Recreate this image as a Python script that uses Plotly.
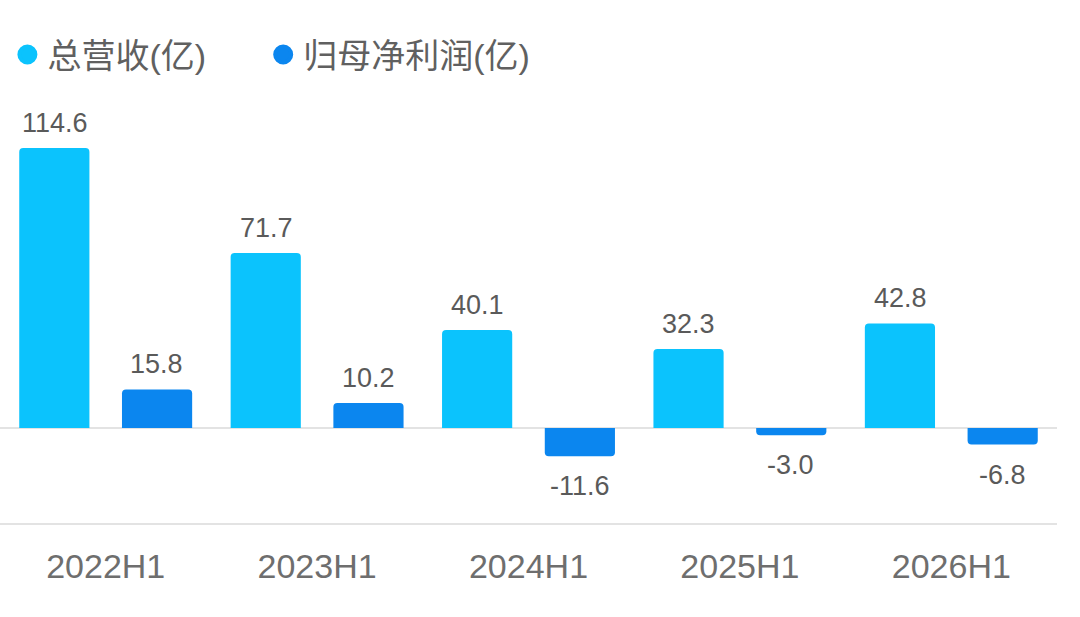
import plotly.graph_objects as go

# data
periods = ['2022H1', '2023H1', '2024H1', '2025H1', '2026H1']
revenue = [114.6, 71.7, 40.1, 32.3, 42.8]
net_profit = [15.8, 10.2, -11.6, -3.0, -6.8]
series_names = ['总营收(亿)', '归母净利润(亿)']

light_blue = '#0BC3FD'
dark_blue = '#0B86EF'
label_grey = '#5a5a5a'
font_family = 'Liberation Sans, Noto Sans CJK SC, sans-serif'

fig = go.Figure()
for name, vals, col, leg in [(series_names[0], revenue, light_blue, 'legend'),
                             (series_names[1], net_profit, dark_blue, 'legend2')]:
  fig.add_trace(go.Bar(x=periods, y=vals, name=name, marker_color=col,
                       marker_line_width=0, showlegend=False))
  # round legend markers
  fig.add_trace(go.Scatter(x=[None], y=[None], mode='markers', name=name, legend=leg,
                           marker=dict(color=col, size=16, symbol='circle',
                                       line=dict(color=col, width=4))))

# value labels above / below each bar
for shift, vals in [(-51, revenue), (51, net_profit)]:
  for p, v in zip(periods, vals):
    fig.add_annotation(x=p, y=v, text=f'{v:.1f}', showarrow=False, xshift=shift,
                       yanchor='bottom' if v >= 0 else 'top',
                       yshift=8 if v >= 0 else -13,
                       font=dict(size=27, color=label_grey, family=font_family))

leg_style = dict(orientation='h', xanchor='left', y=0.958, yref='container',
                 yanchor='top', font=dict(size=34, color='#606060'),
                 itemsizing='trace', bgcolor='rgba(0,0,0,0)')

fig.update_layout(
  width=1080, height=617,
  margin=dict(l=0, r=23, t=100, b=94),
  paper_bgcolor='white', plot_bgcolor='white',
  barmode='group', bargap=0.028, bargroupgap=0.317, barcornerradius=4,
  font=dict(family=font_family, color='#666666'),
  legend=dict(x=0.007, **leg_style),
  legend2=dict(x=0.249, **leg_style),
)
fig.update_xaxes(showgrid=False, showline=True, linecolor='#e3e3e3', linewidth=1.5,
                 ticks='', ticklabelstandoff=12,
                 tickfont=dict(size=34, color='#6e6e6e', family=font_family))
fig.update_yaxes(range=[-38.9, 134.3], showgrid=False, showticklabels=False,
                 zeroline=True, zerolinecolor='#e3e3e3', zerolinewidth=1.5)

fig.write_html('out.html', config={'displayModeBar': False},
               post_script="document.body.style.margin='0';")
